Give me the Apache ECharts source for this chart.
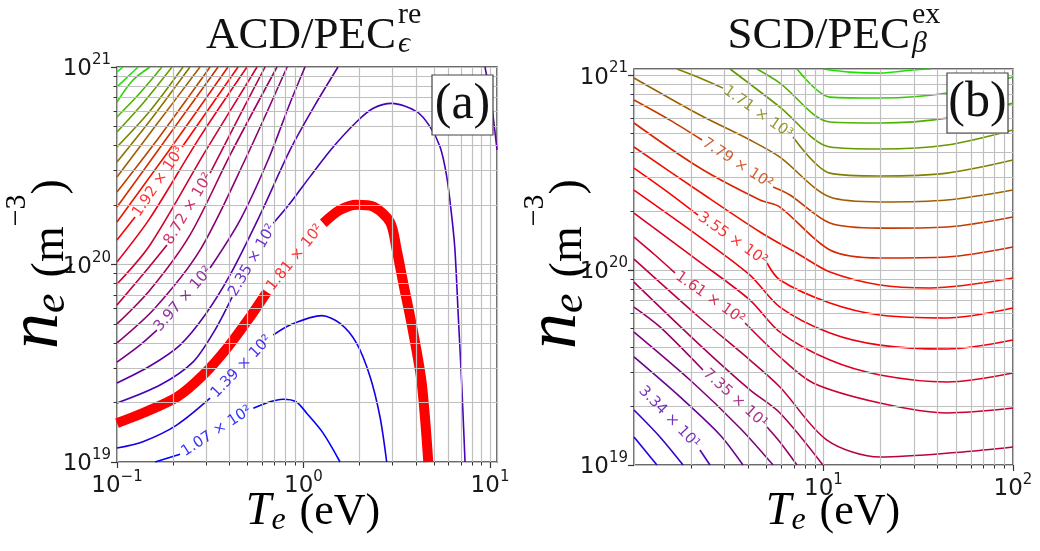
<!DOCTYPE html>
<html><head><meta charset="utf-8">
<script src="https://cdn.jsdelivr.net/npm/echarts@6/dist/echarts.min.js"></script>
<style>html,body{margin:0;padding:0;background:#fff}#c{width:1040px;height:551px}</style>
</head><body><div id="c"></div>
<script>
// ---------- DATA (points are [log10 Te(eV), log10 ne(m^-3)]) ----------
// Panel (a)  ACD/PEC  contour levels (index 0..22)
const acd0a=[[-0.796,19.0],[-0.662,19.039]];
const acd0b=[[-0.269,19.272],[-0.18,19.305],[-0.11,19.318],[-0.04,19.305],[0.017,19.247],[0.106,19.145],[0.196,19.0]];
const acd1a=[[-1,19.071],[-0.861,19.103],[-0.680,19.187],[-0.501,19.323]];
const acd1b=[[-0.162,19.643],[-0.072,19.694],[0.098,19.741],[0.196,19.702],[0.285,19.601],[0.357,19.432],[0.410,19.229],[0.446,19.0]];
const acd2a=[[-1,19.197],[-0.861,19.248],[-0.678,19.329],[-0.539,19.440],[-0.410,19.577],[-0.287,19.734],[-0.196,19.861]];
const acd2b=[[0.106,20.209],[0.196,20.276],[0.285,20.303],[0.374,20.293],[0.464,20.215],[0.50,20.073],[0.535,19.905],[0.589,19.652],[0.634,19.398],[0.669,19.0]];
const acd3a=[[-1,19.299],[-0.769,19.39],[-0.593,19.506],[-0.475,19.668],[-0.383,19.835]];
const acd3b=[[-0.162,20.209],[-0.072,20.310],[0.035,20.445],[0.160,20.596],[0.285,20.723],[0.374,20.791],[0.473,20.816],[0.607,20.774],[0.678,20.698],[0.732,20.596],[0.768,20.445],[0.795,20.242],[0.812,20.073],[0.830,19.736],[0.848,19.400],[0.866,19.0]];
const acd4a=[[-1,19.40],[-0.823,19.486],[-0.662,19.592],[-0.528,19.744],[-0.394,19.947],[-0.233,20.251],[-0.072,20.580],[0.062,20.808],[0.185,21.0]];
const acd4b=[[0.973,21.0],[1.005,20.833],[1.0375,20.580]];
const acd5a=[[-1,19.506],[-0.877,19.592],[-0.786,19.668]];
const acd5b=[[-0.501,19.982],[-0.340,20.225],[-0.190,20.529],[-0.072,20.818],[0.008,21.0]];
const acd6=[[-1,19.603],[-0.796,19.780],[-0.555,20.073],[-0.314,20.529],[-0.088,21.0]];
const acd7=[[-1,19.699],[-0.823,19.871],[-0.609,20.149],[-0.394,20.554],[-0.142,21.0]];
const acd8a=[[-1,19.795],[-0.850,19.962],[-0.732,20.099]];
const acd8b=[[-0.501,20.463],[-0.340,20.757],[-0.206,21.0]];
const acd9=[[-1,19.901],[-0.823,20.099],[-0.528,20.570],[-0.249,21.0]];
const acd10=[[-1,20.013],[-0.823,20.235],[-0.555,20.646],[-0.303,21.0]];
const acd11a=[[-1,20.124],[-0.903,20.241]];
const acd11b=[[-0.651,20.595],[-0.351,21.0]];
const acd12=[[-1,20.215],[-0.727,20.570],[-0.405,21.0]];
const acd13=[[-1,20.291],[-0.748,20.620],[-0.458,21.0]];
const acd14=[[-1,20.367],[-0.769,20.651],[-0.501,21.0]];
const acd15=[[-1,20.443],[-0.786,20.711],[-0.555,21.0]];
const acd16=[[-1,20.519],[-0.812,20.742],[-0.609,21.0]];
const acd17=[[-1,20.595],[-0.828,20.772],[-0.646,21.0]];
const acd18=[[-1,20.671],[-0.855,20.823],[-0.705,21.0]];
const acd19=[[-1,20.747],[-0.882,20.863],[-0.759,21.0]];
const acd20=[[-1,20.823],[-0.914,20.934],[-0.823,21.0]];
const acd21=[[-1,20.899],[-0.887,21.0]];
const acd22=[[-1,20.975],[-0.968,21.0]];
const acdLabelText=['1.07 × 10²','1.39 × 10²','1.81 × 10²','2.35 × 10²','3.97 × 10²','8.72 × 10²','1.92 × 10³'];
const acdLabelLevel=[0,1,2,3,5,8,11];
const acdLabelPos=[[-0.466,19.156],[-0.332,19.483],[-0.045,20.035],[-0.273,20.022],[-0.644,19.825],[-0.617,20.281],[-0.777,20.418]];

// Panel (b)  SCD/PEC  contour lines (index 0..20)
const scd0=[[0,19.144],[0.121,19.0]];
const scd1=[[0,19.282],[0.137,19.144],[0.259,19.0]];
const scd2=[[0.348,19.077],[0.401,19.0]];
const scd3=[[0,19.554],[0.243,19.349],[0.454,19.154],[0.575,19.0]];
const scd4=[[0,19.682],[0.296,19.436],[0.559,19.190],[0.734,19.0]];
const scd5a=[[0,19.810],[0.137,19.708],[0.364,19.487]];
const scd5b=[[0.702,19.195],[0.770,19.118],[0.860,19.0]];
const scd6=[[0,19.938],[0.348,19.615],[0.612,19.385],[0.770,19.267],[0.997,19.0]];
const scd7=[[0,20.056],[0.348,19.754],[0.612,19.538],[0.770,19.4],[1.018,19.128],[1.298,19.041],[1.736,19.067],[2.0,19.092]];
const scd8a=[[0,20.169],[0.111,20.077],[0.216,19.985]];
const scd8b=[[0.586,19.728],[0.770,19.554],[0.945,19.421],[1.298,19.318],[1.652,19.267],[2.0,19.292]];
const scd9=[[0,20.292],[0.348,20.041],[0.612,19.846],[0.770,19.682],[1.034,19.538],[1.298,19.462],[1.652,19.426],[2.0,19.472]];
const scd10=[[0,20.410],[0.348,20.169],[0.612,19.974],[0.770,19.810],[1.034,19.677],[1.298,19.615],[1.652,19.595],[2.0,19.641]];
const scd11a=[[0,20.523],[0.164,20.410],[0.338,20.282]];
const scd11b=[[0.702,20.036],[0.770,19.949],[1.034,19.831],[1.298,19.769],[1.652,19.754],[2.0,19.805]];
const scd12=[[0,20.631],[0.348,20.4],[0.665,20.195],[0.876,20.077],[1.034,19.990],[1.298,19.923],[1.562,19.908],[2.0,19.959]];
const scd13=[[0,20.754],[0.348,20.523],[0.665,20.359],[0.770,20.323],[1.034,20.103],[1.298,20.062],[1.652,20.067],[2.0,20.118]];
const scd14a=[[0,20.872],[0.190,20.769],[0.359,20.667]];
const scd14b=[[0.734,20.426],[0.823,20.385],[1.034,20.241],[1.298,20.215],[1.652,20.221],[2.0,20.272]];
const scd15=[[0,20.985],[0.348,20.795],[0.612,20.667],[0.770,20.579],[1.034,20.374],[1.298,20.349],[1.652,20.359],[2.0,20.410]];
const scd16a=[[0.227,21.031],[0.348,20.985],[0.470,20.933]];
const scd16b=[[0.839,20.682],[1.034,20.497],[1.298,20.482],[1.652,20.497],[2.0,20.564]];
const scd17=[[0.507,21.031],[0.770,20.836],[1.034,20.631],[1.298,20.621],[1.652,20.641],[2.0,20.718]];
const scd18=[[0.649,21.031],[0.770,20.959],[1.034,20.759],[1.298,20.754],[1.652,20.779],[2.0,20.856]];
const scd19=[[0.860,21.031],[1.034,20.887],[1.298,20.882],[1.652,20.908],[2.0,20.990]];
const scd20=[[0.997,21.031],[1.140,21.015],[1.298,21.010],[1.472,21.026],[1.562,21.031]];
const scdLabelText=['3.34 × 10¹','7.35 × 10¹','1.61 × 10²','3.55 × 10²','7.79 × 10²','1.71 × 10³'];
const scdLabelLevel=[2,5,8,11,14,16];
const scdLabelPos=[[0.185,19.244],[0.533,19.341],[0.401,19.856],[0.520,20.159],[0.546,20.546],[0.654,20.808]];

// axis ranges and minor grid values
const acdTRange=[0.1,10.9], scdTRange=[1,100];
const acdNRange=[1e19,1e21], scdNRange=[1e19,1.074e21];
const acdMinorT=[0.2,0.3,0.4,0.5,0.6,0.7,0.8,0.9,2,3,4,5,6,7,8,9];
const scdMinorT=[2,3,4,5,6,7,8,9,20,30,40,50,60,70,80,90];
const nMinor=[2e19,3e19,4e19,5e19,6e19,7e19,8e19,9e19,2e20,3e20,4e20,5e20,6e20,7e20,8e20,9e20];

// ---------- segments -> level index ----------
const acdSegs=[[acd0a,0],[acd0b,0],[acd1a,1],[acd1b,1],[acd2a,2],[acd2b,2],[acd3a,3],[acd3b,3],[acd4a,4],[acd4b,4],
 [acd5a,5],[acd5b,5],[acd6,6],[acd7,7],[acd8a,8],[acd8b,8],[acd9,9],[acd10,10],[acd11a,11],[acd11b,11],[acd12,12],
 [acd13,13],[acd14,14],[acd15,15],[acd16,16],[acd17,17],[acd18,18],[acd19,19],[acd20,20],[acd21,21],[acd22,22]];
const scdSegs=[[scd0,0],[scd1,1],[scd2,2],[scd3,3],[scd4,4],[scd5a,5],[scd5b,5],[scd6,6],[scd7,7],[scd8a,8],[scd8b,8],
 [scd9,9],[scd10,10],[scd11a,11],[scd11b,11],[scd12,12],[scd13,13],[scd14a,14],[scd14b,14],[scd15,15],[scd16a,16],[scd16b,16],
 [scd17,17],[scd18,18],[scd19,19],[scd20,20]];

// ---------- styles / helpers ----------
const scdT=[0.06,0.11,0.16,0.205,0.25,0.29,0.33,0.365,0.40,0.435,0.47,0.50,0.535,0.575,0.615,0.69,0.75,0.80,0.85,0.90,0.95];
const toVal=a=>a.map(p=>[Math.pow(10,p[0]),Math.pow(10,p[1])]);
function brg(t){let r,g,b;if(t<0.5){r=2*t;g=0;b=1-2*t;}else{r=2-2*t;g=2*t-1;b=0;}
 return 'rgb('+Math.round(r*255)+','+Math.round(g*255)+','+Math.round(b*255)+')';}
const acdColor=i=>i===2?'#ff0000':brg(i/22);
const scdColor=k=>brg(scdT[k]);
const GRID='#bfbfbf';
function expFmt(hideZero){return v=>{const e=Math.round(Math.log10(v));if(hideZero&&e===0)return '';
 return '{b|10}{s|'+(e<0?'−':'')+Math.abs(e)+'}';};}
const labRich={b:{fontSize:23,fontFamily:'DejaVu Sans',color:'#1a1a1a',lineHeight:28,verticalAlign:'bottom'},
 s:{fontSize:15,fontFamily:'DejaVu Sans',color:'#1a1a1a',lineHeight:16,verticalAlign:'top'}};
function xAx(g,r,hideZero){return {type:'log',logBase:10,gridIndex:g,min:r[0],max:r[1],
 axisLine:{show:false},axisTick:{show:true,length:6,lineStyle:{color:'#333',width:1.2}},
 axisLabel:{formatter:expFmt(hideZero),rich:labRich,margin:8,showMinLabel:!hideZero},
 splitLine:{show:true,lineStyle:{color:GRID,width:1.2}}};}
function yAx(g,r){return {type:'log',logBase:10,gridIndex:g,min:r[0],max:r[1],
 axisLine:{show:false},axisTick:{show:true,length:6,lineStyle:{color:'#333',width:1.2}},
 axisLabel:{formatter:expFmt(false),rich:labRich,margin:6},
 splitLine:{show:true,lineStyle:{color:GRID,width:1.2}}};}
// overlay axes carrying only the short minor ticks
function minorAx(g,r,vals,pos){return {type:'log',logBase:10,gridIndex:g,min:r[0],max:r[1],position:pos,
 axisLine:{show:false},axisLabel:{show:false},splitLine:{show:false},
 axisTick:{show:true,length:3.5,customValues:vals,lineStyle:{color:'#333',width:1}}};}

const series=[];
function minorGrid(g,mt){series.push({type:'line',xAxisIndex:g,yAxisIndex:g,data:[],silent:true,z:1,
 markLine:{silent:true,symbol:['none','none'],animation:false,label:{show:false},
  lineStyle:{color:GRID,width:1.2,type:'solid'},
  data:mt.map(v=>({xAxis:v})).concat(nMinor.map(v=>({yAxis:v})))}});}
minorGrid(0,acdMinorT);minorGrid(1,scdMinorT);
acdSegs.forEach(([d,i])=>series.push({type:'line',xAxisIndex:0,yAxisIndex:0,data:toVal(d),smooth:0.3,
 symbol:'none',silent:true,z:i===2?4:3,lineStyle:{color:acdColor(i),width:i===2?10:1.6,cap:'butt'}}));
scdSegs.forEach(([d,k])=>series.push({type:'line',xAxisIndex:1,yAxisIndex:1,data:toVal(d),smooth:0.3,
 symbol:'none',silent:true,z:3,lineStyle:{color:scdColor(k),width:1.6}}));
const acdAngle=[33,46,51,60,49,59,56], scdAngle=[-46,-42,-35,-35,-33,-35];
function labelSeries(g,pos,txt,lev,ang,colf){series.push({type:'scatter',xAxisIndex:g,yAxisIndex:g,symbolSize:1,
 itemStyle:{color:'rgba(0,0,0,0)'},silent:true,z:10,
 label:{show:true,position:'inside',formatter:'{b}',fontSize:15,fontFamily:'DejaVu Sans'},
 data:pos.map((p,j)=>({name:txt[j],value:[Math.pow(10,p[0]),Math.pow(10,p[1])],
  label:{rotate:ang[j],color:colf(lev[j])}}))});}
labelSeries(0,acdLabelPos,acdLabelText,acdLabelLevel,acdAngle,acdColor);
labelSeries(1,scdLabelPos,scdLabelText,scdLabelLevel,scdAngle,scdColor);

const serif='"Liberation Serif","DejaVu Serif",serif';
const nameRich={n:{fontSize:72,fontStyle:'italic',fontFamily:serif,lineHeight:72,color:'#111'},
 e:{fontSize:44,fontStyle:'italic',fontFamily:serif,lineHeight:28,verticalAlign:'bottom',color:'#111'},
 p1:{fontSize:46,fontFamily:serif,lineHeight:56,verticalAlign:'bottom',color:'#111',padding:[0,0,0,16]},
 p:{fontSize:46,fontFamily:serif,lineHeight:56,verticalAlign:'bottom',color:'#111'},
 s:{fontSize:30,fontFamily:serif,lineHeight:60,verticalAlign:'top',color:'#111'}};
const xRich={t:{fontSize:46,fontStyle:'italic',fontFamily:serif,lineHeight:50,color:'#111'},
 e:{fontSize:32,fontStyle:'italic',fontFamily:serif,lineHeight:22,verticalAlign:'bottom',color:'#111'},
 p:{fontSize:44,fontFamily:serif,lineHeight:50,color:'#111',padding:[0,0,0,14]}};
function titleEls(xr,main,sup,sub){return [
 {type:'text',x:xr,y:36,z:50,style:{text:main,font:'45px '+serif,fill:'#111',align:'right',verticalAlign:'middle'}},
 {type:'text',x:xr+2,y:15,z:50,style:{text:sup,font:'30px '+serif,fill:'#111',align:'left',verticalAlign:'middle'}},
 {type:'text',x:xr+2,y:44,z:50,style:{text:sub,font:'italic 30px '+serif,fill:'#111',align:'left',verticalAlign:'middle'}}];}
function boxEls(x,y,t){return [
 {type:'rect',z:60,shape:{x:x,y:y,width:61,height:60},style:{fill:'#fff',stroke:'#444',lineWidth:1.2}},
 {type:'text',z:61,x:x+30.5,y:y+30,style:{text:t,font:'50px '+serif,fill:'#111',align:'center',verticalAlign:'middle'}}];}
const yName='{n|n}{e|e}{p1|(m}{s|−3}{p|)}';
const xName='{t|T}{e|e}{p|(eV)}';
const graphic=[].concat(
 titleEls(396,'ACD/PEC','re','ϵ'), titleEls(910,'SCD/PEC','ex','β'),
 boxEls(432,75,'(a)'), boxEls(947,73,'(b)'),
 [{type:'text',x:38,y:264,rotation:Math.PI/2,z:50,style:{text:yName,rich:nameRich,align:'center',verticalAlign:'middle'}},
  {type:'text',x:556,y:264,rotation:Math.PI/2,z:50,style:{text:yName,rich:nameRich,align:'center',verticalAlign:'middle'}},
  {type:'text',x:313,y:512,z:50,style:{text:xName,rich:xRich,align:'center',verticalAlign:'middle'}},
  {type:'text',x:833,y:512,z:50,style:{text:xName,rich:xRich,align:'center',verticalAlign:'middle'}}]);

const chart=echarts.init(document.getElementById('c'),null,{renderer:'canvas'});
chart.setOption({
 backgroundColor:'#fff',animation:false,
 textStyle:{fontFamily:'DejaVu Sans'},
 grid:[{left:117,top:67,width:380,height:395,show:true,borderColor:'#3a3a3a',borderWidth:1.5,backgroundColor:'transparent',containLabel:false},
       {left:634,top:69,width:379,height:396,show:true,borderColor:'#3a3a3a',borderWidth:1.5,backgroundColor:'transparent',containLabel:false}],
 xAxis:[xAx(0,acdTRange,false),xAx(1,scdTRange,true),minorAx(0,acdTRange,acdMinorT,'bottom'),minorAx(1,scdTRange,scdMinorT,'bottom')],
 yAxis:[yAx(0,acdNRange),yAx(1,scdNRange),minorAx(0,acdNRange,nMinor,'left'),minorAx(1,scdNRange,nMinor,'left')],
 series:series,
 graphic:graphic
});
</script></body></html>
